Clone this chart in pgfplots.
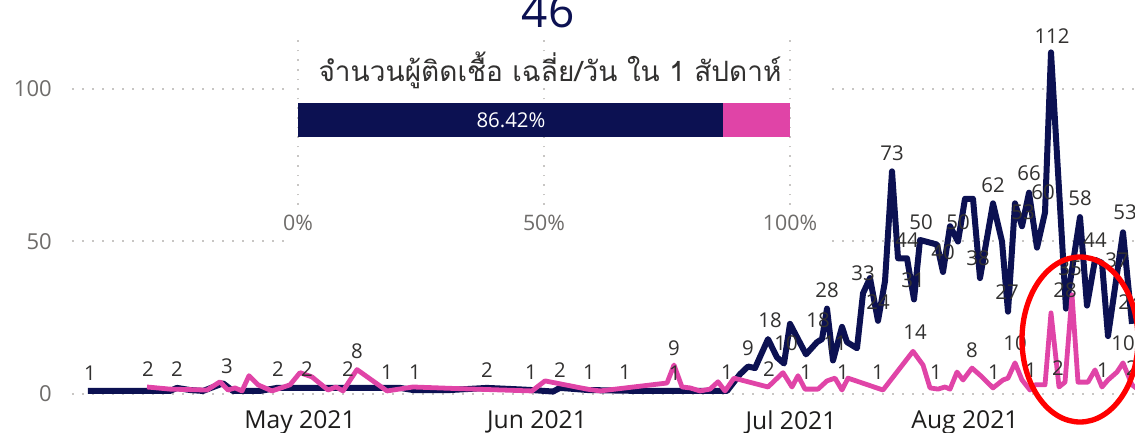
\documentclass[border=0pt]{standalone}
\usepackage{pgfplots}
\pgfplotsset{compat=1.18}
\usepackage{fontspec}
\setmainfont{Open Sans}
\newfontfamily\thaifont[Script=Thai]{Loma}
\definecolor{navy}{RGB}{12,17,82}
\definecolor{pinkc}{RGB}{224,68,167}
\definecolor{lblgray}{RGB}{50,49,48}
\definecolor{axisdark}{RGB}{30,29,28}
\definecolor{tickgray}{RGB}{110,108,106}
\definecolor{gridgray}{RGB}{200,198,196}
\begin{document}
\begin{tikzpicture}[x=0.75pt,y=0.75pt]
\useasboundingbox (0,0) rectangle (1135,432);
\begin{axis}[
  at={(54pt,23.925pt)}, anchor=south west, scale only axis,
  width=801pt, height=274.5pt,
  xmin=72, xmax=1140, ymin=-2, ymax=118,
  axis line style={draw=none},
  tick style={draw=none},
  ytick={0,50,100}, yticklabels={0,50,100},
  xtick={300,537,791,965}, xticklabels={May 2021,Jun 2021,Jul 2021,Aug 2021},
  ymajorgrids, grid style={gridgray, line width=1.5pt, dash pattern=on 1.5pt off 6pt},
  yticklabel style={font=\fontsize{16.5}{16.5}\selectfont, text=tickgray, inner sep=0pt, xshift=-15pt},
  xticklabel style={font=\fontsize{18.5}{18.5}\selectfont, text=axisdark, inner sep=0pt, yshift=-7.5pt},
  every node near coord/.append style={anchor=center, inner sep=0pt, font=\fontsize{15.3}{15.5}\selectfont, text=lblgray},
]
\addplot[draw=none, nodes near coords, point meta=explicit symbolic] coordinates {
(90,6.9)[1] (148,8.2)[2] (177,8.2)[2] (227,9.2)[3] (278,8.2)[2] (307,8.2)[2] (348,8.2)[2]
(357,14.1)[8] (387,7.2)[1] (415,7.2)[1] (487,7.9)[2] (531,7.2)[1] (560,7.9)[2] (589,7.2)[1]
(625,7.2)[1] (674,15.1)[9] (675,6.9)[1] (727,7.2)[1] (748,15.1)[9] (770,24.3)[18] (769,8.2)[2]
(786,16.7)[10] (806,7.2)[1] (818,24.3)[18] (835,16.7)[11] (827,34.1)[28] (843,7.2)[1]
(863,39.7)[33] (878,30.2)[24] (878,7.2)[1] (892,79.0)[73] (907,50.5)[44] (913,37.4)[31]
(915,20.3)[14] (921,56.4)[50] (943,46.6)[40] (958,56.4)[50] (936,7.2)[1] (972,14.4)[8]
(978,44.6)[38] (993,68.5)[62] (994,7.2)[1] (1007,33.4)[27] (1015,16.7)[10] (1023,59.7)[53]
(1029,72.5)[66] (1043,66.2)[60] (1031,7.9)[1] (1052,117.4)[112] (1058,8.5)[2] (1065,34.1)[28]
(1070,41.3)[35] (1080,64.3)[58] (1095,50.5)[44] (1103,7.9)[1] (1117,43.9)[37] (1125,59.7)[53]
(1123,16.7)[10] (1130,30.2)[24] (1132,8.5)[2]
};
\addplot[navy, line width=4.5pt, line join=round, mark=none] coordinates {
(88,1) (170,1) (177,2) (190,1.3) (203,1) (223,3.5) (233,1) (260,1) (277,2) (400,2) (413,1.3)
(450,1.3) (487,2) (520,1.5) (532,1.3) (553,0.8) (560,2) (588,1.3) (640,1) (713,1) (727,1)
(740,6.5) (748,9) (755,8.5) (768,18) (777,12) (784,10) (790,23) (806,13) (817,17) (822,18)
(827,28) (833,11) (842,22) (847,17) (857,15) (863,33) (870,38) (878,24) (885,37) (892,73)
(898,44.5) (907,44.5) (914,31) (920,50.5) (937,49) (943,40) (950,55) (958,50) (965,64) (973,64)
(980,38) (993,62.5) (1002,50) (1008,27) (1015,62.5) (1022,55) (1029,66) (1037,48) (1045,59.5)
(1051,112) (1066,28) (1080,58) (1087,29) (1095,44) (1102,43) (1108,19) (1123,53) (1132,23)
};
\addplot[pinkc, line width=3.6pt, line join=round, mark=none] coordinates {
(147,2.3) (170,1.6) (207,1.3) (220,4) (228,1.3) (235,2) (242,1) (249,6) (258,3) (272,1) (290,3)
(300,7) (312,5.6) (328,1.3) (336,2.3) (343,1) (357,8) (387,1) (413,2.3) (455,1.8) (532,1)
(545,4.3) (587,1.6) (600,1) (667,3.6) (674,9.5) (682,2.3) (690,2) (700,1) (710,1.6) (718,4)
(725,1) (734,5.2) (768,2.3) (783,7) (792,2.3) (798,6) (805,1.6) (818,1.6) (827,4.3) (835,5.2)
(842,1.3) (848,5.2) (883,1.3) (913,14) (923,9.5) (930,2) (938,1.6) (945,2.3) (950,1.6) (957,7.2)
(963,4.6) (972,8.5) (982,5.6) (993,2) (1003,4.6) (1008,5.2) (1015,10.2) (1022,4.6) (1030,1.3)
(1035,3) (1045,3) (1051,26.6) (1059,2.3) (1065,3.9) (1072,32.5) (1078,3.9) (1088,3.9) (1095,7.9)
(1102,2.3) (1108,4.6) (1117,7.2) (1123,10.2) (1132,3) (1140,1)
};
\end{axis}
\fill[white] (285,182) rectangle (830,440);
\begin{axis}[
  at={(223.5pt,170.25pt)}, anchor=south west, scale only axis,
  width=369pt, height=125.25pt,
  xmin=0, xmax=100, ymin=0, ymax=1,
  xbar stacked, bar width=25.5pt,
  xtick={0,50,100}, xticklabels={0\%,50\%,100\%},
  ytick=\empty,
  axis line style={draw=none}, tick style={draw=none},
  xmajorgrids, grid style={gridgray, line width=1.2pt, dash pattern=on 1.2pt off 6pt},
  xticklabel style={font=\fontsize{16}{16}\selectfont, text=tickgray, inner sep=0pt, yshift=-7.5pt},
]
\addplot[fill=navy, draw=none] coordinates {(86.42,0.509)};
\addplot[fill=pinkc, draw=none] coordinates {(13.58,0.509)};
\end{axis}
\node[text=white, font=\fontsize{15.3}{15.5}\selectfont] at (511,312) {86.42\%};
\node[font=\thaifont\fontsize{21}{22}\selectfont, text=lblgray] at (550,362) {จำนวนผู้ติดเชื้อ เฉลี่ย/วัน ใน 1 สัปดาห์};
\node[anchor=base, inner sep=0pt, font=\fontsize{34.5}{35}\selectfont, text=navy] at (548,404) {46};
\draw[red, line width=4pt] (1080,92.5) ellipse [x radius=43.5pt, y radius=61.875pt];
\end{tikzpicture}
\end{document}
